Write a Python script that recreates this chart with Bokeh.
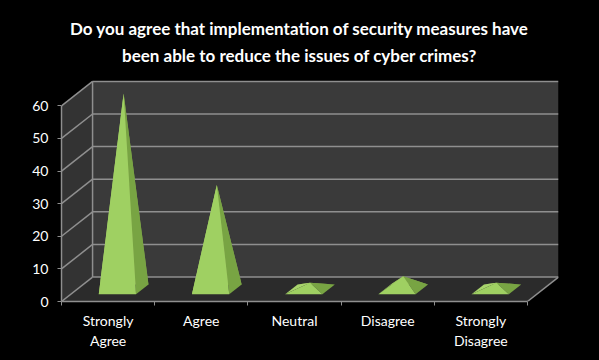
from bokeh.plotting import figure
from bokeh.models import FixedTicker, Label, Range1d
from bokeh.embed import file_html
from bokeh.resources import INLINE
from bokeh.core.templates import get_env

# ---- data ----
categories = ["Strongly Agree", "Agree", "Neutral", "Disagree", "Strongly Disagree"]
tick_labels = ["Strongly\nAgree", "Agree", "Neutral", "Disagree", "Strongly\nDisagree"]
values = [60, 32, 2, 4, 2]
y_ticks = [0, 10, 20, 30, 40, 50, 60]
title_lines = ["Do you agree that implementation of security measures have",
               "been able to reduce the issues of cyber crimes?"]

# ---- 3D projection settings ----
DX = 1 / 3.0   # depth offset in category units
DY = 7.5       # depth offset in value units
YMAX = y_ticks[-1]
TOP_ROOM = 24.8  # empty value-space above the back wall, holds the title
n = len(categories)

def proj(x, v, z):
    return x + z * DX, v + z * DY

p = figure(width=599, height=360, output_backend="svg", toolbar_location=None,
           x_range=Range1d(0, n + DX), y_range=Range1d(0, YMAX + DY + TOP_ROOM),
           min_border_left=61, min_border_right=41, min_border_top=0,
           min_border_bottom=59, title=None)
p.background_fill_color = "black"
p.border_fill_color = "black"
p.outline_line_color = None
p.xgrid.visible = False
p.ygrid.visible = False

# walls
GRID = "#8f8f8f"
wall_xs, wall_ys, wall_cols = [], [], []
pts = [proj(0, 0, 0), proj(n, 0, 0), proj(n, 0, 1), proj(0, 0, 1)]
wall_xs.append([a for a, b in pts]); wall_ys.append([b for a, b in pts]); wall_cols.append("#2b2b2b")
pts = [proj(0, 0, 0), proj(0, 0, 1), proj(0, YMAX, 1), proj(0, YMAX, 0)]
wall_xs.append([a for a, b in pts]); wall_ys.append([b for a, b in pts]); wall_cols.append("#333333")
pts = [proj(0, 0, 1), proj(n, 0, 1), proj(n, YMAX, 1), proj(0, YMAX, 1)]
wall_xs.append([a for a, b in pts]); wall_ys.append([b for a, b in pts]); wall_cols.append("#3a3a3a")
p.patches(wall_xs, wall_ys, fill_color=wall_cols, line_color=None)

# gridlines on back wall and side wall
gx, gy = [], []
for t in y_ticks:
    a0, b0 = proj(0, t, 1); a1, b1 = proj(n, t, 1)
    gx.append([a0, a1]); gy.append([b0, b1])
    c0, d0 = proj(0, t, 0)
    gx.append([c0, a0]); gy.append([d0, b0])
a0, b0 = proj(0, 0, 1); a1, b1 = proj(0, YMAX, 1)
gx.append([a0, a1]); gy.append([b0, b1])
a0, b0 = proj(n, 0, 0); a1, b1 = proj(n, 0, 1)
gx.append([a0, a1]); gy.append([b0, b1])
p.multi_line(gx, gy, line_color=GRID, line_width=1.5)

# pyramids
px, py, pc = [], [], []
for i, v in enumerate(values):
    x0, x1 = i + 0.3, i + 0.7
    z0, z1 = 0.3, 0.7
    apex = proj(i + 0.5, v, 0.5)
    faces = [
        ([proj(x0, 0, z1), proj(x1, 0, z1), apex], "#86a052"),  # back
        ([proj(x0, 0, z0), proj(x0, 0, z1), apex], "#a8d46c"),  # left
        ([proj(x1, 0, z0), proj(x1, 0, z1), apex], "#78a443"),  # right
        ([proj(x0, 0, z0), proj(x1, 0, z0), apex], "#9fd062"),  # front
    ]
    for pts, col in faces:
        px.append([a for a, b in pts]); py.append([b for a, b in pts]); pc.append(col)
p.patches(px, py, fill_color=pc, line_color=None)

# axes
FONT = "Lato"
ya = p.yaxis[0]
ya.ticker = FixedTicker(ticks=y_ticks)
ya.bounds = (0, YMAX)
ya.axis_line_color = GRID
ya.axis_line_width = 1.5
ya.major_tick_line_color = GRID
ya.major_tick_out = 4
ya.major_tick_in = 0
ya.minor_tick_line_color = None
ya.major_label_text_color = "white"
ya.major_label_text_font = FONT
ya.major_label_text_font_size = "14px"
ya.major_label_standoff = 9

xa = p.xaxis[0]
xa.ticker = FixedTicker(ticks=[i + 0.5 for i in range(n)], minor_ticks=list(range(n + 1)))
xa.major_label_overrides = {i + 0.5: lab for i, lab in enumerate(tick_labels)}
xa.bounds = (0, n)
xa.axis_line_color = GRID
xa.axis_line_width = 1.5
xa.major_tick_line_color = None
xa.minor_tick_line_color = GRID
xa.minor_tick_out = 4
xa.minor_tick_in = 0
xa.major_label_text_color = "white"
xa.major_label_text_font = FONT
xa.major_label_text_font_size = "14px"
xa.major_label_standoff = 4
xa.major_label_text_line_height = 1.2

# title (two centred lines; screen units are measured from the plot frame's lower-left)
for txt, yy in [(title_lines[0], 273), (title_lines[1], 246)]:
    p.add_layout(Label(x=238, y=yy, x_units="screen", y_units="screen", text=txt,
                       text_align="center", text_baseline="middle", text_color="white",
                       text_font=FONT, text_font_style="bold", text_font_size="17px"))

tmpl = get_env().from_string(
    '{% extends "file.html" %}{% block preamble %}<style>html,body{background:#000;}</style>{% endblock %}')
open("out.html", "w").write(file_html(p, INLINE, template=tmpl))
